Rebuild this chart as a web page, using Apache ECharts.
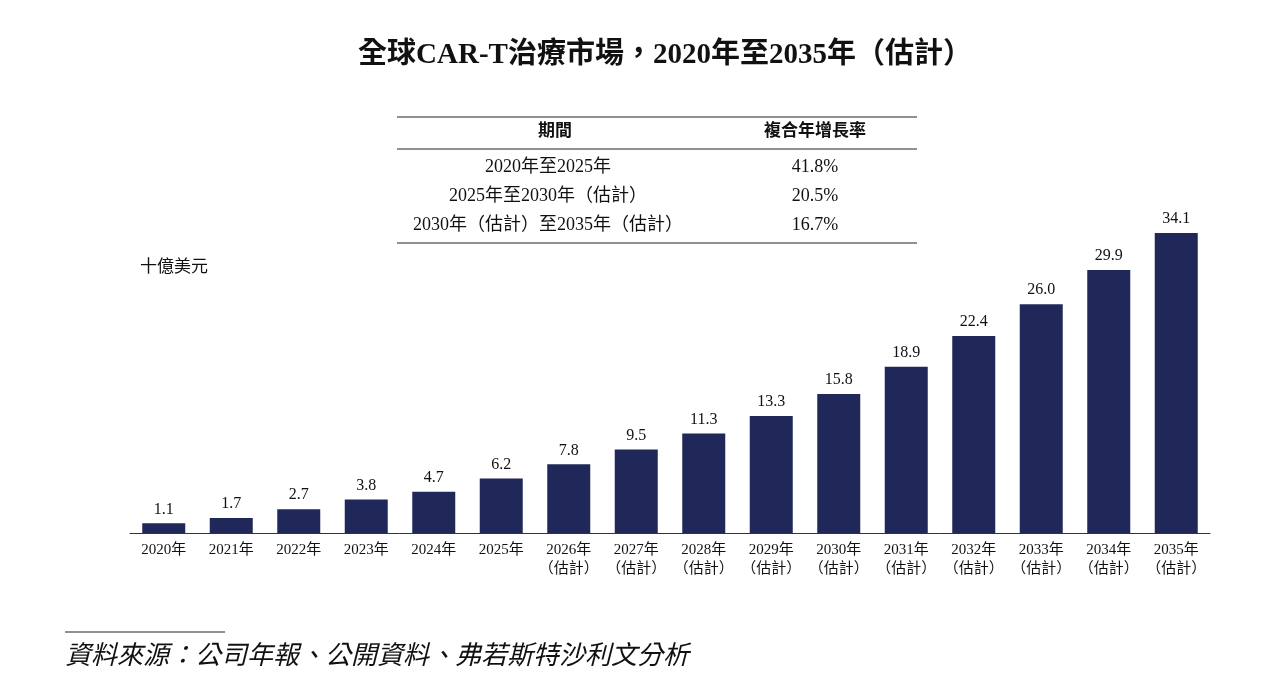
<!DOCTYPE html>
<html><head><meta charset="utf-8">
<script src="https://cdn.jsdelivr.net/npm/echarts@6/dist/echarts.min.js"></script>
<style>html,body{margin:0;padding:0;background:#fff}#c{width:1267px;height:694px}</style>
</head><body><div id="c"></div>
<script>
const categories = ['2020年','2021年','2022年','2023年','2024年','2025年','2026年\n（估計）','2027年\n（估計）','2028年\n（估計）','2029年\n（估計）','2030年\n（估計）','2031年\n（估計）','2032年\n（估計）','2033年\n（估計）','2034年\n（估計）','2035年\n（估計）'];
const values = [1.1,1.7,2.7,3.8,4.7,6.2,7.8,9.5,11.3,13.3,15.8,18.9,22.4,26.0,29.9,34.1];
const cagrPeriods = ['2020年至2025年','2025年至2030年（估計）','2030年（估計）至2035年（估計）'];
const cagrRates = ['41.8%','20.5%','16.7%'];
const F = "'Liberation Serif','Noto Sans CJK TC',serif";
const chart = echarts.init(document.getElementById('c'));
const g = [
  {type:'text',x:665,y:56,style:{text:'全球CAR-T治療市場，2020年至2035年（估計）',font:"bold 29px 'Liberation Serif','Noto Sans CJK TC',serif",fill:'#111',align:'center',verticalAlign:'middle'}},
  {type:'line',shape:{x1:397,y1:117,x2:917,y2:117},style:{stroke:'#222',lineWidth:1.2}},
  {type:'line',shape:{x1:397,y1:149,x2:917,y2:149},style:{stroke:'#222',lineWidth:1}},
  {type:'line',shape:{x1:397,y1:243,x2:917,y2:243},style:{stroke:'#222',lineWidth:1.2}},
  {type:'text',x:555,y:132,style:{text:'期間',font:"bold 17px "+F,fill:'#111',align:'center',verticalAlign:'middle'}},
  {type:'text',x:815,y:132,style:{text:'複合年增長率',font:"bold 17px "+F,fill:'#111',align:'center',verticalAlign:'middle'}},
  {type:'text',x:140,y:268,style:{text:'十億美元',font:"17px "+F,fill:'#111',verticalAlign:'middle'}},
  {type:'line',shape:{x1:65,y1:632,x2:225,y2:632},style:{stroke:'#222',lineWidth:1.2}},
  {type:'text',x:65,y:657,style:{text:'資料來源：公司年報、公開資料、弗若斯特沙利文分析',font:"italic 26px "+F,fill:'#111',verticalAlign:'middle'}}
];
cagrPeriods.forEach((p,i)=>{
  g.push({type:'text',x:548,y:167+i*29,style:{text:p,font:"18px "+F,fill:'#111',align:'center',verticalAlign:'middle'}});
  g.push({type:'text',x:815,y:167+i*29,style:{text:cagrRates[i],font:"18px "+F,fill:'#111',align:'center',verticalAlign:'middle'}});
});
chart.setOption({
  animation:false,
  graphic:g,
  grid:{left:130,right:57,top:225,bottom:161},
  xAxis:{type:'category',data:categories,axisTick:{show:false},axisLine:{lineStyle:{color:'#333',width:1}},
    axisLabel:{color:'#111',fontFamily:F,fontSize:15,lineHeight:19,margin:8,interval:0}},
  yAxis:{type:'value',min:0,max:35,show:false,splitLine:{show:false}},
  series:[{type:'bar',data:values,barWidth:43,itemStyle:{color:'#1f2859'},
    label:{show:true,position:'top',color:'#111',fontFamily:F,fontSize:16,distance:6,formatter:p=>p.value.toFixed(1)}}]
});
</script></body></html>
